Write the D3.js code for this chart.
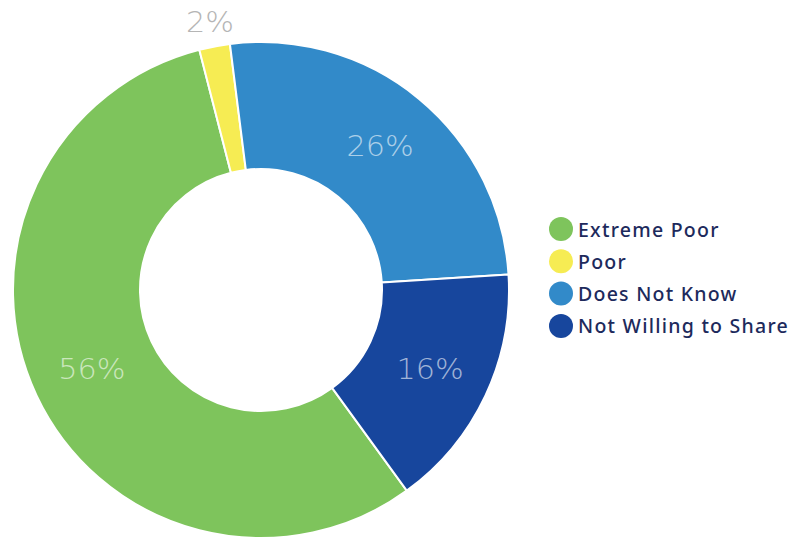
<!DOCTYPE html>
<html>
<head>
<meta charset="utf-8">
<script src="https://cdn.jsdelivr.net/npm/d3@7"></script>
<style>
  html, body { margin: 0; padding: 0; background: #ffffff; }
  svg { display: block; }
</style>
</head>
<body>
<div id="chart"></div>
<script>
// Household poverty status shares
const categories = ["Extreme Poor", "Poor", "Does Not Know", "Not Willing to Share"];
const values = [56, 2, 26, 16];
const colors = ["#7ec45c", "#f6ec53", "#328ac9", "#17469d"];
const valueLabels = ["56%", "2%", "26%", "16%"];

const width = 791, height = 541;
const cx = 261, cy = 290;
const outerR = 248, innerR = 121;
const startDeg = 144;

const svg = d3.select("#chart").append("svg")
  .attr("width", width)
  .attr("height", height);

const data = categories.map((c, i) => ({ name: c, value: values[i], color: colors[i], label: valueLabels[i] }));

const pie = d3.pie()
  .sort(null)
  .value(d => d.value)
  .startAngle(startDeg * Math.PI / 180)
  .endAngle(startDeg * Math.PI / 180 + 2 * Math.PI);

const arcs = pie(data);

const arc = d3.arc().innerRadius(innerR).outerRadius(outerR);
const labelArc = d3.arc().innerRadius(187).outerRadius(187);
const outsideArc = d3.arc().innerRadius(272).outerRadius(272);

const g = svg.append("g").attr("transform", `translate(${cx},${cy})`);

g.selectAll("path.slice")
  .data(arcs)
  .join("path")
  .attr("class", "slice")
  .attr("d", arc)
  .attr("fill", d => d.data.color)
  .attr("stroke", "#ffffff")
  .attr("stroke-width", 2)
  .attr("stroke-linejoin", "round");

// Value labels: inside the ring for large slices, above the ring for tiny ones
g.selectAll("text.val")
  .data(arcs)
  .join("text")
  .attr("class", "val")
  .attr("transform", d => {
    const small = d.data.value < 5;
    const [x, y] = (small ? outsideArc : labelArc).centroid(d);
    return `translate(${x},${y}) scale(1.08,1)`;
  })
  .attr("text-anchor", "middle")
  .attr("dominant-baseline", "central")
  .attr("font-family", "'DejaVu Sans', sans-serif")
  .attr("font-weight", 200)
  .attr("font-size", 28)
  .attr("fill", d => d.data.value < 5 ? "#b5b5b5" : "#ffffff")
  .attr("fill-opacity", d => d.data.value < 5 ? 1 : 0.6)
  .text(d => d.data.label);

// Legend
const legend = svg.append("g").attr("transform", "translate(561,229)");
const rowH = 32.3;
const items = legend.selectAll("g.item")
  .data(data)
  .join("g")
  .attr("class", "item")
  .attr("transform", (d, i) => `translate(0,${i * rowH})`);

items.append("circle")
  .attr("r", 12)
  .attr("fill", d => d.color);

items.append("text")
  .attr("x", 17)
  .attr("y", 0)
  .attr("dominant-baseline", "central")
  .attr("font-family", "'Noto Sans', sans-serif")
  .attr("font-weight", 500)
  .attr("font-size", 19.5)
  .attr("letter-spacing", 1.25)
  .attr("fill", "#1d2a5c")
  .text(d => d.name);
</script>
</body>
</html>
